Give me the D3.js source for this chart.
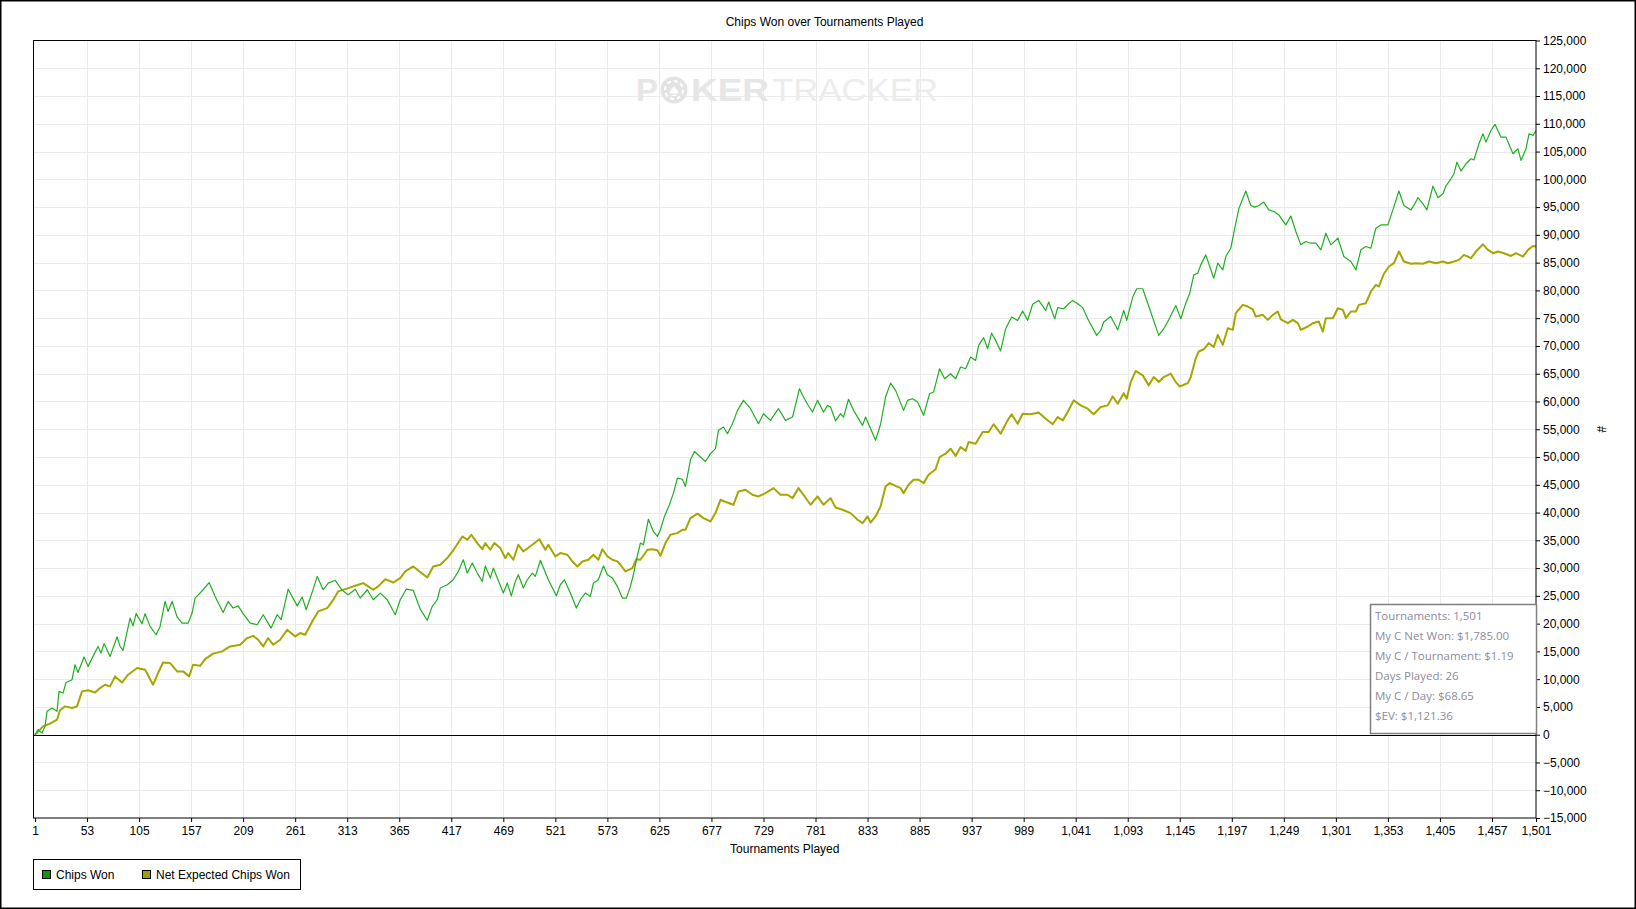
<!DOCTYPE html>
<html>
<head>
<meta charset="utf-8">
<script src="https://cdn.jsdelivr.net/npm/d3@7"></script>
<style>
  body { margin: 0; background: #fff; }
  text { font-family: "Liberation Sans", Arial, sans-serif; }
</style>
</head>
<body>
<div id="chart"></div>
<script>
// values: [tournament, chips]
const chipsWon = [
  [1,0],[4,900],[8,300],[11,1500],[13,4200],[18,4800],[23,4200],[25,7800],[29,7500],[32,9400],
  [38,9900],[41,12600],[44,11200],[50,14000],[54,12300],[59,14100],[64,15900],[67,14700],[70,16400],[76,14100],
  [83,17600],[86,15900],[89,15200],[96,21000],[99,19600],[102,21800],[108,20000],[111,21800],[116,19500],[122,18000],
  [126,19500],[131,24000],[134,22200],[138,24000],[143,21200],[148,20100],[154,20100],[158,21900],[161,24600],[169,26100],
  [175,27400],[181,24900],[189,22000],[194,24000],[199,22800],[204,23200],[209,21800],[216,20100],[223,19800],[229,21600],
  [237,19200],[243,21600],[247,20700],[254,26200],[263,23200],[268,24800],[272,22500],[279,26200],[283,28500],[289,26100],
  [294,27300],[301,27800],[308,26000],[314,25200],[321,26200],[326,24600],[333,26100],[339,24300],[346,25500],[353,24300],
  [361,21600],[366,24300],[372,26200],[379,26000],[386,22600],[393,20600],[398,23100],[403,24300],[406,26400],[413,27000],
  [419,27900],[424,29400],[429,31500],[433,29100],[438,30900],[443,29100],[448,27600],[451,30400],[456,28200],[459,30000],
  [469,25500],[473,27300],[477,25000],[481,27600],[484,28800],[489,26400],[493,27900],[498,29100],[501,28500],[506,31400],
  [514,27900],[522,25000],[526,27000],[530,27900],[536,25500],[542,22800],[546,24300],[551,25500],[556,24900],[559,27300],
  [564,27900],[569,30400],[573,28800],[578,28200],[583,26700],[588,24600],[592,24600],[596,26700],[599,28800],[602,31500],
  [606,34500],[609,34200],[614,38800],[619,36600],[623,35700],[626,36900],[630,39300],[635,41400],[639,43500],[643,46200],
  [648,46000],[651,44700],[656,49500],[660,51000],[666,50000],[671,49200],[676,50600],[681,51500],[684,54800],[689,55400],
  [693,54200],[698,56000],[703,58400],[709,60200],[716,58700],[724,56000],[729,57800],[736,56600],[744,58700],[751,56600],
  [758,57200],[765,62300],[769,60800],[773,59500],[778,58100],[783,60200],[789,58100],[793,59300],[796,59000],[801,56500],
  [806,57800],[809,57200],[814,60400],[819,58400],[828,55700],[831,57200],[841,53000],[846,55900],[851,60800],[856,63300],
  [861,62000],[869,58400],[873,60200],[878,60500],[883,59900],[889,57500],[895,61400],[899,61700],[905,65900],[910,64100],
  [916,65000],[921,64100],[926,66200],[931,65900],[936,68000],[941,67400],[944,70100],[949,71500],[953,69500],[957,72300],
  [961,71000],[966,69100],[971,73100],[977,75200],[983,74600],[988,76300],[993,74600],[998,77500],[1004,78200],[1011,76400],
  [1014,77900],[1020,74900],[1023,76900],[1029,76700],[1034,77600],[1038,78200],[1043,77600],[1048,76900],[1053,74900],[1062,71900],
  [1066,72800],[1069,74300],[1076,75300],[1083,72900],[1089,76400],[1092,74600],[1098,78800],[1102,80300],[1108,80300],[1124,71900],
  [1129,73100],[1134,74700],[1141,77300],[1146,74900],[1151,77700],[1155,79500],[1159,82800],[1163,83100],[1166,84600],[1171,86400],
  [1179,82200],[1183,84900],[1188,83700],[1191,86100],[1196,87600],[1201,92100],[1204,94700],[1211,97900],[1216,95300],[1220,95000],
  [1224,95300],[1229,95900],[1234,94500],[1239,94200],[1244,93600],[1251,91800],[1256,93400],[1261,90600],[1266,88200],[1271,88800],
  [1276,88500],[1281,88500],[1286,87300],[1291,90300],[1296,88200],[1303,89400],[1309,86100],[1316,85200],[1321,83700],[1326,87300],
  [1331,87900],[1336,87600],[1341,91200],[1346,91800],[1353,91800],[1358,94500],[1364,97900],[1369,95300],[1376,94500],[1379,95300],
  [1383,96700],[1388,95600],[1392,94500],[1398,98800],[1403,96700],[1408,97400],[1411,98800],[1416,100100],[1419,101000],[1422,103100],
  [1426,101500],[1431,102800],[1436,103700],[1439,103500],[1444,106400],[1448,108200],[1451,106700],[1456,108800],[1460,109900],[1466,107600],
  [1471,107600],[1478,104600],[1483,105500],[1486,103400],[1491,105500],[1494,108200],[1498,107900],[1501,108800]
];

const netExpected = [
  [1,0],[9,1500],[16,2000],[23,2700],[26,4400],[31,5100],[38,4800],[43,5100],[48,7800],[54,8000],
  [61,7600],[66,8400],[71,9000],[76,8700],[81,10500],[88,9400],[94,10800],[103,12000],[111,11700],[119,9000],
  [124,11100],[129,13000],[136,12900],[143,11400],[149,11400],[155,10500],[159,12600],[166,12400],[171,13600],[179,14600],
  [188,15000],[196,15900],[206,16200],[213,17400],[219,17800],[224,17100],[229,15900],[234,17400],[239,16200],[246,17100],
  [253,18900],[261,17700],[266,18300],[271,18000],[279,20700],[284,22200],[293,22800],[298,24000],[304,25800],[314,26400],
  [324,27000],[329,27300],[334,26700],[339,26100],[344,26700],[351,28000],[359,27400],[366,28200],[371,29400],[379,30300],
  [386,29300],[393,28300],[399,30300],[406,30600],[413,31800],[419,33200],[428,35700],[433,35100],[437,36000],[443,34500],
  [448,33400],[451,34500],[456,33300],[460,34500],[466,33600],[471,31800],[474,32700],[479,31500],[484,34200],[489,33000],
  [498,34200],[505,35200],[511,33300],[514,34200],[521,32100],[526,32700],[533,32400],[538,31200],[543,30300],[548,31200],
  [554,31500],[559,32400],[564,31500],[568,33400],[573,32100],[578,31500],[583,31200],[586,30600],[591,29400],[598,30000],
  [602,31600],[606,31500],[613,33300],[618,33400],[623,33200],[626,32200],[631,34500],[636,36000],[643,36300],[648,36900],
  [651,36900],[656,39000],[663,39800],[669,39000],[676,38400],[681,39900],[686,42300],[693,41800],[699,41400],[704,43800],
  [711,44100],[718,43200],[724,42900],[731,43500],[739,44400],[746,43200],[753,43200],[758,42600],[764,44400],[769,43200],
  [776,41400],[783,42900],[789,41400],[796,42600],[801,40900],[808,40500],[816,39900],[823,38700],[828,38100],[833,39300],
  [836,38200],[841,39300],[846,41100],[851,44700],[855,45300],[861,44800],[866,44400],[869,43500],[874,45000],[879,45900],
  [884,45900],[889,45300],[894,46800],[901,47800],[905,50000],[911,50600],[916,51500],[921,50200],[926,51800],[931,51100],
  [934,52700],[941,52400],[948,54500],[954,54500],[959,55900],[966,54200],[973,56600],[977,57700],[983,56000],[988,57800],
  [996,57700],[1004,58000],[1011,56900],[1018,55900],[1023,57200],[1028,56600],[1033,58100],[1039,60200],[1046,59300],[1053,58700],
  [1059,57700],[1066,59000],[1073,59300],[1078,60900],[1083,59600],[1089,61500],[1092,60500],[1096,63500],[1101,65500],[1108,64700],
  [1114,62900],[1119,64400],[1124,63500],[1129,64400],[1136,65000],[1141,63500],[1145,62700],[1153,63300],[1156,64400],[1161,67800],
  [1164,69000],[1169,69400],[1174,70500],[1179,69800],[1183,72000],[1188,70200],[1193,73200],[1198,72900],[1201,75900],[1208,77400],
  [1213,77100],[1218,76600],[1221,75300],[1228,75600],[1233,74700],[1238,75600],[1243,76200],[1246,74800],[1253,74100],[1258,74700],
  [1263,74100],[1266,72900],[1273,73500],[1278,74100],[1284,74400],[1288,72600],[1291,75000],[1298,75000],[1303,76800],[1308,76500],
  [1311,75000],[1316,76200],[1321,76200],[1324,77400],[1331,77700],[1336,79800],[1341,81000],[1344,80700],[1349,83000],[1354,84300],
  [1359,84900],[1364,87000],[1369,85200],[1376,84800],[1381,84900],[1388,84800],[1394,85200],[1401,84900],[1408,85200],[1413,84900],
  [1419,85200],[1424,85500],[1429,86400],[1436,85800],[1441,87000],[1448,88300],[1453,87300],[1458,86700],[1463,87000],[1469,86700],
  [1476,86200],[1481,86700],[1488,86100],[1493,87300],[1498,88000],[1501,87900]
];

const xTicks = [1,53,105,157,209,261,313,365,417,469,521,573,625,677,729,781,833,885,937,989,1041,1093,1145,1197,1249,1301,1353,1405,1457,1501];
const yTicks = [-15000,-10000,-5000,0,5000,10000,15000,20000,25000,30000,35000,40000,45000,50000,55000,60000,65000,70000,75000,80000,85000,90000,95000,100000,105000,110000,115000,120000,125000];

const seriesNames = ["Chips Won", "Net Expected Chips Won"];
const statLines = [
  "Tournaments: 1,501",
  "My C Net Won: $1,785.00",
  "My C / Tournament: $1.19",
  "Days Played: 26",
  "My C / Day: $68.65",
  "$EV: $1,121.36"
];

const width = 1636;
const height = 909;
const plot = { left: 33.5, right: 1536, top: 40.5, bottom: 818 };

const svg = d3.select("#chart").append("svg")
  .attr("width", width)
  .attr("height", height);

// outer frame
svg.append("rect")
  .attr("x", 0.75).attr("y", 0.75)
  .attr("width", width - 1.5).attr("height", height - 1.5)
  .attr("fill", "#fff")
  .attr("stroke", "#000")
  .attr("stroke-width", 1.5);

const x = d3.scaleLinear().domain([1, 1501]).range([35, plot.right]);
const y = d3.scaleLinear().domain([-15000, 125000]).range([plot.bottom, plot.top]);

// title
svg.append("text")
  .attr("x", 824.5).attr("y", 26)
  .attr("text-anchor", "middle")
  .style("font-size", "12px")
  .text("Chips Won over Tournaments Played");

// grid
const grid = svg.append("g").attr("stroke", "#ebebeb").attr("stroke-width", 1);
grid.selectAll("line.v")
  .data(xTicks.slice(1, -1))
  .join("line")
  .attr("x1", d => Math.round(x(d)) + 0.5).attr("x2", d => Math.round(x(d)) + 0.5)
  .attr("y1", plot.top).attr("y2", plot.bottom);
grid.selectAll("line.h")
  .data(yTicks.slice(1, -1))
  .join("line")
  .attr("x1", plot.left).attr("x2", plot.right)
  .attr("y1", d => Math.round(y(d)) + 0.5).attr("y2", d => Math.round(y(d)) + 0.5);

// watermark
const wm = svg.append("g").attr("fill", "#e6e6e6");
wm.append("text")
  .attr("x", 636).attr("y", 101)
  .attr("textLength", 22).attr("lengthAdjust", "spacingAndGlyphs")
  .style("font-size", "31px").style("font-weight", "bold")
  .text("P");
wm.append("circle").attr("cx", 674).attr("cy", 90).attr("r", 13.5).attr("fill", "#e3e3e3");
wm.append("circle").attr("cx", 674).attr("cy", 90).attr("r", 9).attr("fill", "none")
  .attr("stroke", "#fff").attr("stroke-width", 2).attr("stroke-dasharray", "4 3");
wm.append("text")
  .attr("x", 674).attr("y", 96)
  .attr("text-anchor", "middle")
  .attr("fill", "#fff")
  .style("font-size", "17px")
  .text("\u2660");
wm.append("text")
  .attr("x", 691).attr("y", 101)
  .attr("textLength", 78).attr("lengthAdjust", "spacingAndGlyphs")
  .style("font-size", "31px").style("font-weight", "bold")
  .text("KER");
wm.append("text")
  .attr("x", 772).attr("y", 101)
  .attr("fill", "#ececec")
  .attr("textLength", 166).attr("lengthAdjust", "spacingAndGlyphs")
  .style("font-size", "31px")
  .text("TRACKER");

// zero line
svg.append("line")
  .attr("x1", plot.left).attr("x2", plot.right)
  .attr("y1", Math.round(y(0)) + 0.5).attr("y2", Math.round(y(0)) + 0.5)
  .attr("stroke", "#000");

const line = d3.line()
  .x(d => x(d[0]))
  .y(d => y(d[1]));

svg.append("path")
  .datum(netExpected)
  .attr("fill", "none")
  .attr("stroke", "#a6a600")
  .attr("stroke-width", 2)
  .attr("stroke-linejoin", "round")
  .attr("d", line);

svg.append("path")
  .datum(chipsWon)
  .attr("fill", "none")
  .attr("stroke", "#1fae22")
  .attr("stroke-width", 1.2)
  .attr("stroke-linejoin", "round")
  .attr("d", line);

// plot frame
svg.append("rect")
  .attr("x", plot.left).attr("y", plot.top)
  .attr("width", plot.right - plot.left).attr("height", plot.bottom - plot.top)
  .attr("fill", "none")
  .attr("stroke", "#000");

// axes
const xAxis = svg.append("g")
  .attr("transform", `translate(0,${plot.bottom})`)
  .call(d3.axisBottom(x).tickValues(xTicks).tickFormat(d3.format(",")).tickSize(4).tickSizeOuter(0).tickPadding(4));
xAxis.select(".domain").remove();
xAxis.selectAll("text").style("font-size", "12px").attr("fill", "#000");
xAxis.selectAll("line").attr("stroke", "#000");

const yAxis = svg.append("g")
  .attr("transform", `translate(${plot.right},0)`)
  .call(d3.axisRight(y).tickValues(yTicks).tickFormat(d3.format(",")).tickSize(4).tickSizeOuter(0).tickPadding(3));
yAxis.select(".domain").remove();
yAxis.selectAll("text").style("font-size", "12px").attr("fill", "#000");
yAxis.selectAll("line").attr("stroke", "#000");

// axis titles
svg.append("text")
  .attr("x", (plot.left + plot.right) / 2).attr("y", 853)
  .attr("text-anchor", "middle")
  .style("font-size", "12px")
  .text("Tournaments Played");

svg.append("text")
  .attr("transform", `translate(1597,${(plot.top + plot.bottom) / 2}) rotate(90)`)
  .attr("text-anchor", "middle")
  .style("font-size", "12px")
  .text("#");

// stats box
const stats = svg.append("g");
stats.append("rect")
  .attr("x", 1370.5).attr("y", 604.5)
  .attr("width", 166).attr("height", 129)
  .attr("fill", "#fff")
  .attr("stroke", "#808080")
  .attr("stroke-width", 1.5);
stats.selectAll("text")
  .data(statLines)
  .join("text")
  .attr("x", 1375).attr("y", (d, i) => 620 + i * 20)
  .attr("fill", "#8c8c9c")
  .style("font-family", "'Open Sans', 'Noto Sans', sans-serif")
  .style("font-size", "11.5px")
  .text(d => d);

// legend
const legend = svg.append("g");
legend.append("rect")
  .attr("x", 33.5).attr("y", 859.5)
  .attr("width", 267).attr("height", 30)
  .attr("fill", "#fff")
  .attr("stroke", "#000");
const swatchX = [42.5, 142.5];
const swatchColor = ["#0a9a0a", "#a0a000"];
seriesNames.forEach((name, i) => {
  legend.append("rect")
    .attr("x", swatchX[i]).attr("y", 870.5)
    .attr("width", 8).attr("height", 8)
    .attr("fill", swatchColor[i])
    .attr("stroke", "#000");
  legend.append("text")
    .attr("x", swatchX[i] + 13.5).attr("y", 879)
    .style("font-size", "12px")
    .text(name);
});
</script>
</body>
</html>
